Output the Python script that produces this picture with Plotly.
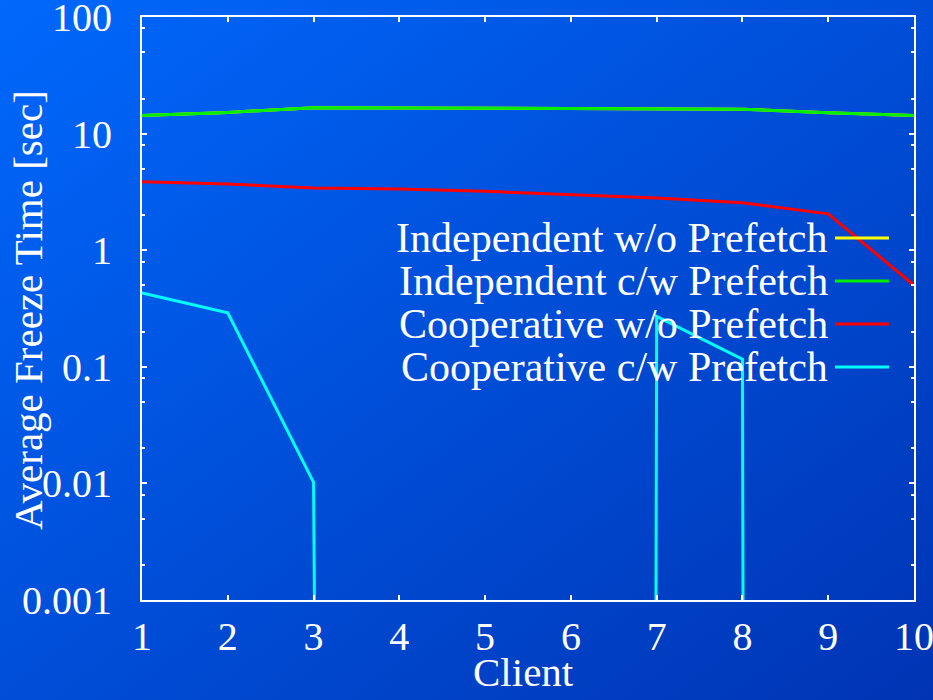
import base64
import plotly.graph_objects as go

# ---- data ----
clients = [1, 2, 3, 4, 5, 6, 7, 8, 9, 10]
series_names = [
    "Independent w/o Prefetch",
    "Independent c/w Prefetch",
    "Cooperative w/o Prefetch",
    "Cooperative c/w Prefetch",
]
indep_wo = [14.3, 15.2, 16.7, 16.6, 16.4, 16.3, 16.2, 16.2, 15.1, 14.3]
indep_cw = [14.3, 15.2, 16.7, 16.6, 16.4, 16.3, 16.2, 16.2, 15.1, 14.3]
coop_wo = [3.87, 3.7, 3.41, 3.35, 3.2, 2.99, 2.8, 2.55, 2.05, 0.50]
coop_cw = [0.43, 0.29, 0.0102, 0, 0, 0, 0.27, 0.116, 0, 0]
series_values = [indep_wo, indep_cw, coop_wo, coop_cw]
series_colors = ["#ffff00", "#00ee00", "#ff0000", "#00ffff"]

y_tickvals = [0.001, 0.01, 0.1, 1, 10, 100]
y_ticktext = ["0.001", "0.01", "0.1", "1", "10", "100"]
y_minor = [m * 10 ** e for e in range(-3, 2) for m in (2, 5, 8)]
x_tickvals = clients
x_ticktext = [str(c) for c in clients]
x_title = "Client"
y_title = "Average Freeze Time [sec]"

FONT = "Liberation Serif, Times New Roman, Times, serif"
ZERO_FLOOR = 1e-300  # zero values drawn far below the log range

fig = go.Figure()
for name, vals, col in zip(series_names, series_values, series_colors):
    fig.add_trace(go.Scatter(
        x=clients, y=[v if v > 0 else ZERO_FLOOR for v in vals],
        mode="lines", name=name, line=dict(color=col, width=3),
        showlegend=False, hoverinfo="skip",
    ))

# background gradient
svg = ('<svg xmlns="http://www.w3.org/2000/svg" width="933" height="700" '
       'preserveAspectRatio="none"><defs><linearGradient id="g" x1="0" y1="0" '
       'x2="1" y2="1"><stop offset="0" stop-color="#0068fc"/>'
       '<stop offset="1" stop-color="#0034b4"/></linearGradient></defs>'
       '<rect width="933" height="700" fill="url(#g)"/></svg>')
src = "data:image/svg+xml;base64," + base64.b64encode(svg.encode()).decode()

L, R, T, B = 142, 19, 17, 100
W, H = 933, 700
pw, ph = W - L - R, H - T - B

fig.add_layout_image(dict(
    source=src, xref="paper", yref="paper",
    x=-L / pw, y=1 + T / ph, sizex=W / pw, sizey=H / ph,
    sizing="stretch", xanchor="left", yanchor="top", layer="below",
))

# legend drawn at right: text then line sample
for i, (name, col) in enumerate(zip(series_names, series_colors)):
    ypix = 238 + i * 43
    yp = (H - B - ypix) / ph
    fig.add_annotation(
        x=(830 - L) / pw, y=yp, xref="paper", yref="paper",
        text=name, showarrow=False, xanchor="right", yanchor="middle",
        font=dict(family=FONT, size=42, color="white"),
    )
    fig.add_shape(
        type="line", xref="paper", yref="paper",
        x0=(835 - L) / pw, x1=(889 - L) / pw, y0=yp, y1=yp,
        line=dict(color=col, width=3),
    )

# axis titles
fig.add_annotation(
    x=(523 - L) / pw, y=(H - B - 672) / ph, xref="paper", yref="paper",
    text=x_title, showarrow=False, xanchor="center", yanchor="middle",
    font=dict(family=FONT, size=41, color="white"),
)
fig.add_annotation(
    x=(28 - L) / pw, y=(H - B - 310) / ph, xref="paper", yref="paper",
    text=y_title, showarrow=False, textangle=-90, xanchor="center", yanchor="middle",
    font=dict(family=FONT, size=41, color="white"),
)

fig.update_layout(
    width=W, height=H,
    margin=dict(l=L, r=R, t=T, b=B, autoexpand=False),
    paper_bgcolor="#0050dc",
    plot_bgcolor="rgba(0,0,0,0)",
    font=dict(family=FONT, color="white", size=40),
    showlegend=False,
)
fig.update_xaxes(
    range=[1, 10], tickvals=x_tickvals, ticktext=x_ticktext,
    showgrid=False, zeroline=False, automargin=False,
    showline=True, linecolor="white", linewidth=2, mirror="ticks",
    ticks="inside", ticklen=5, tickwidth=2, tickcolor="white",
    ticklabeloverflow="allow", ticklabelstandoff=0,
    tickfont=dict(family=FONT, size=40, color="white"),
)
fig.update_yaxes(
    type="log", range=[-3, 2], tickvals=y_tickvals, ticktext=y_ticktext,
    showgrid=False, zeroline=False, automargin=False,
    showline=True, linecolor="white", linewidth=2, mirror="ticks",
    ticks="inside", ticklen=5, tickwidth=2, tickcolor="white",
    minor=dict(tickvals=y_minor, ticks="inside", ticklen=3, tickwidth=2, tickcolor="white"),
    ticklabeloverflow="allow", ticklabelstandoff=20,
    tickfont=dict(family=FONT, size=40, color="white"),
)

fig.write_html(
    "out.html",
    config={"displayModeBar": False, "staticPlot": True},
    post_script="document.body.style.margin='0';document.body.style.overflow='hidden';",
)
